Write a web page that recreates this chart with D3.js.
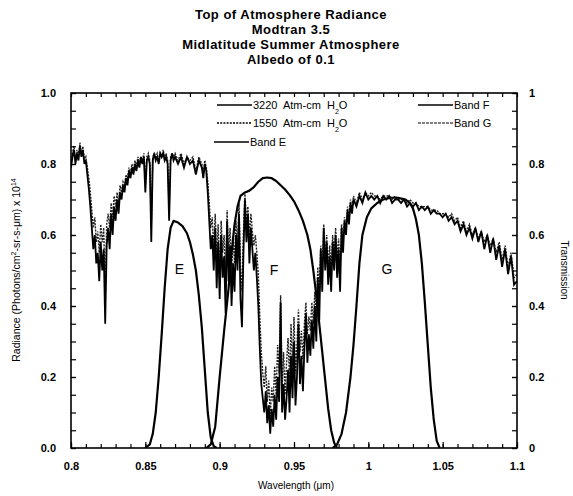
<!DOCTYPE html>
<html><head><meta charset="utf-8">
<script src="https://cdn.jsdelivr.net/npm/d3@7"></script>
<style>
body{margin:0;background:#fff;}
svg{display:block;font-family:"Liberation Sans",Arial,sans-serif;}
</style></head>
<body>
<svg id="c" width="573" height="496"></svg>
<script>
// ---------- DATA ----------
const titleLines = ["Top of Atmosphere Radiance","Modtran 3.5","Midlatitude Summer Atmosphere","Albedo of 0.1"];

const wavelength = [
 0.800,0.801,0.802,0.803,0.804,0.805,0.806,0.807,0.808,0.809,
 0.810,0.811,0.812,0.813,0.814,0.815,0.816,0.817,0.818,0.819,
 0.820,0.821,0.822,0.823,0.824,0.825,0.826,0.827,0.828,0.829,
 0.830,0.831,0.832,0.833,0.834,0.835,0.836,0.837,0.838,0.839,
 0.840,0.841,0.842,0.843,0.844,0.845,0.846,0.847,0.848,0.849,
 0.850,0.851,0.852,0.853,0.854,0.855,0.856,0.857,0.858,0.859,
 0.860,0.861,0.862,0.863,0.864,0.865,0.866,0.867,0.868,0.869,
 0.870,0.872,0.874,0.876,0.878,0.880,0.882,0.884,0.886,0.888,
 0.889,0.890,0.891,0.892,0.893,0.894,0.895,0.896,0.897,0.898,
 0.899,0.900,0.901,0.902,0.903,0.904,0.905,0.906,0.907,0.908,
 0.909,0.910,0.911,0.912,0.913,0.914,0.915,0.916,0.917,0.918,
 0.919,0.920,0.921,0.922,0.923,0.924,0.925,0.926,0.927,0.928,
 0.929,0.930,0.931,0.932,0.933,0.934,0.935,0.936,0.937,0.938,
 0.939,0.940,0.941,0.942,0.943,0.944,0.945,0.946,0.947,0.948,
 0.949,0.950,0.951,0.952,0.953,0.954,0.955,0.956,0.957,0.958,
 0.959,0.960,0.961,0.962,0.963,0.964,0.965,0.966,0.967,0.968,
 0.969,0.970,0.971,0.972,0.973,0.974,0.975,0.976,0.977,0.978,
 0.979,0.980,0.981,0.982,0.983,0.984,0.985,0.986,0.987,0.988,
 0.989,0.990,0.992,0.994,0.996,0.998,1.000,1.002,1.004,1.006,
 1.008,1.010,1.012,1.014,1.016,1.018,1.020,1.022,1.024,1.026,
 1.028,1.030,1.032,1.034,1.036,1.038,1.040,1.042,1.044,1.046,
 1.048,1.050,1.052,1.054,1.056,1.058,1.060,1.062,1.064,1.066,
 1.068,1.070,1.072,1.074,1.076,1.078,1.080,1.082,1.084,1.086,
 1.088,1.090,1.092,1.094,1.096,1.098,1.100
];
const radiance3220 = [
 .79,.82,.84,.80,.83,.81,.85,.82,.84,.80,
 .81,.77,.73,.68,.62,.56,.60,.52,.55,.47,
 .58,.50,.56,.35,.57,.62,.56,.66,.60,.68,
 .64,.70,.66,.72,.70,.74,.72,.76,.74,.78,
 .76,.79,.77,.80,.78,.81,.79,.82,.80,.82,
 .72,.81,.82,.80,.58,.81,.83,.81,.82,.80,
 .83,.82,.83,.81,.82,.80,.64,.81,.83,.81,
 .82,.80,.82,.79,.82,.80,.81,.77,.81,.79,
 .76,.80,.78,.72,.64,.56,.60,.50,.62,.45,
 .58,.42,.60,.48,.54,.38,.64,.47,.57,.40,
 .52,.44,.60,.50,.66,.42,.34,.55,.70,.58,
 .66,.52,.62,.56,.50,.55,.48,.40,.28,.18,
 .14,.10,.16,.07,.12,.04,.11,.06,.15,.08,
 .20,.13,.41,.10,.18,.08,.14,.22,.10,.26,
 .14,.30,.12,.20,.35,.18,.26,.16,.28,.38,
 .24,.32,.26,.36,.28,.40,.30,.48,.36,.56,
 .44,.62,.50,.58,.46,.54,.44,.58,.50,.60,
 .48,.56,.44,.62,.55,.64,.60,.67,.63,.69,
 .66,.70,.68,.71,.69,.72,.70,.71,.70,.71,
 .69,.71,.70,.71,.69,.70,.70,.69,.70,.68,
 .69,.68,.69,.67,.68,.67,.68,.66,.67,.66,
 .66,.65,.66,.64,.65,.63,.64,.61,.63,.60,
 .62,.59,.62,.58,.61,.56,.60,.55,.59,.53,
 .57,.51,.56,.49,.54,.46,.47
];
const radiance1550 = [
 .80,.83,.85,.81,.84,.82,.86,.83,.85,.81,
 .82,.79,.76,.72,.67,.62,.65,.58,.61,.55,
 .63,.58,.62,.43,.63,.66,.62,.69,.65,.71,
 .68,.72,.69,.74,.72,.75,.74,.77,.76,.79,
 .77,.80,.78,.81,.79,.82,.80,.82,.81,.83,
 .74,.82,.83,.81,.62,.82,.83,.82,.83,.81,
 .83,.82,.84,.82,.83,.81,.67,.82,.83,.82,
 .83,.81,.83,.80,.82,.81,.82,.78,.82,.80,
 .77,.81,.79,.75,.69,.62,.65,.56,.66,.53,
 .63,.50,.64,.55,.60,.47,.67,.54,.62,.49,
 .59,.52,.64,.56,.69,.51,.44,.61,.72,.63,
 .68,.59,.66,.61,.57,.60,.55,.49,.37,.27,
 .21,.17,.23,.13,.19,.09,.17,.13,.23,.15,
 .29,.21,.43,.17,.27,.15,.24,.31,.19,.35,
 .23,.37,.21,.29,.39,.27,.33,.25,.35,.41,
 .32,.37,.33,.41,.35,.44,.37,.51,.43,.57,
 .49,.63,.54,.60,.51,.57,.49,.60,.54,.62,
 .53,.59,.49,.63,.58,.65,.62,.68,.65,.70,
 .67,.71,.69,.72,.70,.72,.71,.72,.71,.71,
 .70,.71,.71,.71,.70,.71,.70,.70,.70,.69,
 .70,.69,.69,.68,.68,.68,.68,.67,.67,.67,
 .66,.66,.66,.65,.66,.64,.65,.62,.64,.61,
 .63,.60,.62,.59,.61,.58,.60,.57,.59,.55,
 .58,.53,.57,.51,.55,.48,.49
];

const bandEWave = [0.850,0.853,0.855,0.857,0.859,0.861,0.863,0.865,0.867,0.869,0.872,0.875,0.878,0.880,0.882,0.884,0.886,0.888,0.890,0.892,0.894,0.896,0.898];
const bandETrans = [0,0.01,0.04,0.10,0.20,0.32,0.45,0.56,0.62,0.64,0.635,0.625,0.605,0.58,0.545,0.50,0.43,0.34,0.22,0.10,0.03,0.005,0];

const bandFWave = [0.891,0.894,0.897,0.900,0.903,0.906,0.908,0.910,0.912,0.914,0.917,0.920,0.923,0.926,0.929,0.932,0.935,0.938,0.941,0.944,0.947,0.950,0.953,0.956,0.959,0.961,0.963,0.965,0.967,0.969,0.971,0.973,0.975,0.977,0.979];
const bandFTrans = [0,0.01,0.06,0.20,0.33,0.45,0.55,0.63,0.68,0.71,0.72,0.725,0.735,0.75,0.76,0.762,0.76,0.752,0.74,0.728,0.713,0.695,0.67,0.64,0.60,0.56,0.50,0.43,0.35,0.27,0.19,0.11,0.05,0.015,0];

const bandGWave = [0.976,0.979,0.982,0.985,0.988,0.990,0.992,0.994,0.996,0.999,1.002,1.006,1.010,1.015,1.020,1.025,1.028,1.030,1.032,1.034,1.036,1.038,1.040,1.042,1.044,1.046,1.048];
const bandGTrans = [0,0.01,0.04,0.10,0.20,0.29,0.40,0.52,0.60,0.65,0.675,0.69,0.70,0.705,0.705,0.70,0.69,0.675,0.645,0.60,0.52,0.41,0.29,0.17,0.08,0.02,0];

const bandLabels = ["E","F","G"];
const bandLabelPos = [[0.873,0.505],[0.9365,0.50],[1.0125,0.505]];

const xTicks = [0.8,0.85,0.9,0.95,1.0,1.05,1.1];
const xTickLabels = ["0.8","0.85","0.9","0.95","1","1.05","1.1"];
const yLeftTicks = [0,0.2,0.4,0.6,0.8,1.0];
const yLeftTickLabels = ["0.0","0.2","0.4","0.6","0.8","1.0"];
const yRightTicks = [0,0.2,0.4,0.6,0.8,1];
const yRightTickLabels = ["0","0.2","0.4","0.6","0.8","1"];

// ---------- DRAW ----------
const svg = d3.select("#c");
const L=71, R=517, T=93, B=448;
const x = d3.scaleLinear().domain([0.8,1.1]).range([L,R]);
const y = d3.scaleLinear().domain([0,1]).range([B,T]);
const yR = d3.scaleLinear().domain([0,1]).range([B,T]);

// title
svg.append("g").selectAll("text").data(titleLines).join("text")
  .attr("x",291).attr("y",(d,i)=>19+i*15)
  .attr("text-anchor","middle").attr("font-weight","bold").attr("font-size",13)
  .attr("letter-spacing",0.5)
  .text(d=>d);

svg.append("defs").append("clipPath").attr("id","clip")
  .append("rect").attr("x",L).attr("y",T).attr("width",R-L).attr("height",B-T);

const plot = svg.append("g").attr("clip-path","url(#clip)");
const line = d3.line().x(d=>x(d[0])).y(d=>d[1]);

const rad3220 = wavelength.map((w,i)=>[w,y(radiance3220[i])]);
const rad1550 = wavelength.map((w,i)=>[w,y(radiance1550[i])]);
plot.append("path").attr("d",line(rad1550)).attr("fill","none")
  .attr("stroke","#222").attr("stroke-width",1.4).attr("stroke-dasharray","2,1.2");
plot.append("path").attr("d",line(rad3220)).attr("fill","none")
  .attr("stroke","#000").attr("stroke-width",1.8);

const bands = [[bandEWave,bandETrans],[bandFWave,bandFTrans],[bandGWave,bandGTrans]];
bands.forEach(([w,t])=>{
  plot.append("path").attr("d",line(w.map((v,i)=>[v,yR(t[i])])))
    .attr("fill","none").attr("stroke","#000").attr("stroke-width",2.2).attr("stroke-linejoin","round");
});

svg.append("g").selectAll("text").data(bandLabels).join("text")
  .attr("x",(d,i)=>x(bandLabelPos[i][0])).attr("y",(d,i)=>yR(bandLabelPos[i][1]))
  .attr("text-anchor","middle").attr("dy","0.35em").attr("font-size",14).text(d=>d);

// axes
function styleAxis(g){ g.select(".domain").remove(); g.selectAll("line").attr("stroke","#000").attr("stroke-width",1.2); g.selectAll("text").attr("font-family","Liberation Sans, Arial, sans-serif").attr("fill","#000"); }
const minorX = d3.range(0,31).map(i=>0.8+i*0.01);
const minorY = d3.range(0,21).map(i=>i*0.05);

svg.append("g").attr("transform",`translate(0,${B})`)
  .call(d3.axisBottom(x).tickValues(minorX).tickSize(-4).tickFormat("")).call(styleAxis);
svg.append("g").attr("transform",`translate(0,${B})`)
  .call(d3.axisBottom(x).tickValues(xTicks).tickSize(-6).tickPadding(14).tickFormat((d,i)=>xTickLabels[i]))
  .call(styleAxis).call(g=>g.selectAll("text").attr("font-size",11).attr("font-weight","bold"));
svg.append("g").attr("transform",`translate(0,${T})`)
  .call(d3.axisTop(x).tickValues(minorX).tickSize(-4).tickFormat("")).call(styleAxis);

svg.append("g").attr("transform",`translate(${L},0)`)
  .call(d3.axisLeft(y).tickValues(minorY).tickSize(-5).tickFormat("")).call(styleAxis);
svg.append("g").attr("transform",`translate(${L},0)`)
  .call(d3.axisLeft(y).tickValues(yLeftTicks).tickSize(-5).tickPadding(15).tickFormat((d,i)=>yLeftTickLabels[i]))
  .call(styleAxis).call(g=>g.selectAll("text").attr("font-size",11).attr("font-weight","bold"));

svg.append("g").attr("transform",`translate(${R},0)`)
  .call(d3.axisRight(yR).tickValues(minorY).tickSize(-5).tickFormat("")).call(styleAxis);
svg.append("g").attr("transform",`translate(${R},0)`)
  .call(d3.axisRight(yR).tickValues(yRightTicks).tickSize(-5).tickPadding(12).tickFormat((d,i)=>yRightTickLabels[i]))
  .call(styleAxis).call(g=>g.selectAll("text").attr("font-size",11).attr("font-weight","bold"));

svg.append("rect").attr("x",L).attr("y",T).attr("width",R-L).attr("height",B-T)
  .attr("fill","none").attr("stroke","#000").attr("stroke-width",1.6);

// axis titles
svg.append("text").attr("x",(L+R)/2+2).attr("y",489).attr("text-anchor","middle").attr("font-size",10)
  .text("Wavelength (\u03bcm)");
const yl = svg.append("text").attr("transform","translate(20,270) rotate(-90)").attr("text-anchor","middle").attr("font-size",10.5);
yl.append("tspan").text("Radiance (Photons/cm");
yl.append("tspan").attr("dy",-4).attr("font-size",7).text("2");
yl.append("tspan").attr("dy",4).text("-sr-s-\u03bcm) x 10");
yl.append("tspan").attr("dy",-4).attr("font-size",7).text("14");
svg.append("text").attr("transform","translate(561,270) rotate(90)").attr("text-anchor","middle").attr("font-size",10)
  .text("Transmission");

// legend
const legend = [
  {x:217,y:105,label:"3220  Atm-cm  H",sub:true,dash:null,w:1.6},
  {x:217,y:123,label:"1550  Atm-cm  H",sub:true,dash:"2,1.2",w:1.3},
  {x:214,y:142,label:"Band E",sub:false,dash:null,w:1.6},
  {x:418,y:105,label:"Band F",sub:false,dash:null,w:1.3},
  {x:418,y:123,label:"Band G",sub:false,dash:"3,1",w:1.2}
];
const lg = svg.append("g");
legend.forEach(e=>{
  lg.append("line").attr("x1",e.x).attr("x2",e.x+35).attr("y1",e.y).attr("y2",e.y)
    .attr("stroke","#000").attr("stroke-width",e.w).attr("stroke-dasharray",e.dash);
  const t = lg.append("text").attr("x",e.x+36).attr("y",e.y).attr("dy","0.35em").attr("font-size",11)
    .attr("xml:space","preserve").style("white-space","pre");
  t.append("tspan").text(e.label);
  if(e.sub){
    t.append("tspan").attr("dy",5).attr("font-size",7).text("2");
    t.append("tspan").attr("dy",-5).text("O");
  }
});
</script>
</body></html>
